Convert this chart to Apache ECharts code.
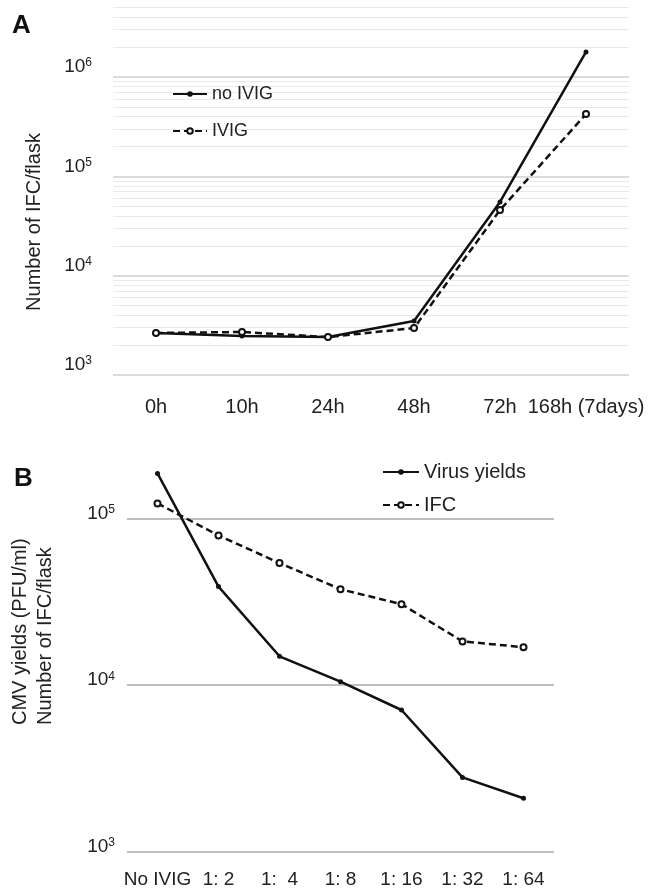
<!DOCTYPE html>
<html>
<head>
<meta charset="utf-8">
<script src="https://cdn.jsdelivr.net/npm/echarts@6/dist/echarts.min.js"></script>
<style>
html, body { margin: 0; padding: 0; background: #fff; }
#charts { width: 656px; height: 892px; }
</style>
</head>
<body>
<div id="charts"></div>
<script>
// panel A : IFC per flask over time
var hours = ['0h', '10h', '24h', '48h', '72h', '168h (7days)'];
var noIvig = [2650, 2470, 2410, 3500, 55200, 1790000];
var ivig = [2650, 2710, 2410, 2970, 45800, 424000];

// panel B : IVIG dilutions
var dilutions = ['No IVIG', '1: 2', '1:  4', '1: 8', '1: 16', '1: 32', '1: 64'];
var virusYields = [186000, 39000, 14900, 10500, 7100, 2800, 2100];
var ifc = [123000, 79000, 54000, 37600, 30600, 18300, 16900];

// gridline levels
var majorA = [1e3, 1e4, 1e5, 1e6];
var majorB = [1e3, 1e4, 1e5];

var FONT = '"Liberation Sans", Arial, sans-serif';

function minorLevels(from, to, top) {
    var list = [];
    for (var k = from; k <= to; k++) {
        for (var m = 2; m <= 9; m++) {
            var v = m * Math.pow(10, k);
            if (v <= top) list.push(v);
        }
    }
    return list;
}

// only the powers of ten get a label, written as 10 with a superscript
function powLabel(v) {
    var e = Math.log10(v);
    if (Math.abs(e - Math.round(e)) > 1e-6) return '';
    return '{b|10}{s|' + Math.round(e) + '}';
}

var labelRich = {
    b: { fontSize: 19, lineHeight: 20, color: '#222', fontFamily: FONT },
    s: { fontSize: 12, lineHeight: 12, verticalAlign: 'top', color: '#222', fontFamily: FONT }
};

function gridLines(levels, color, width) {
    var list = [];
    for (var i = 0; i < levels.length; i++) {
        list.push({ yAxis: levels[i], lineStyle: { color: color, width: width, type: 'solid' } });
    }
    return list;
}

var linesA = gridLines(minorLevels(3, 6, 5e6), '#e9e9e9', 1).concat(gridLines(majorA, '#cfcfcf', 1.5));
var linesB = gridLines(majorB, '#a8a8a8', 1.5);

var myChart = echarts.init(document.getElementById('charts'));

var option = {
    animation: false,
    backgroundColor: '#fff',
    textStyle: { fontFamily: FONT },
    grid: [
        { left: 113, right: 27, top: 3.5, bottom: 517 },
        { left: 127, right: 102, top: 452, bottom: 40 }
    ],
    legend: [
        {
            orient: 'vertical', left: 167, top: 80, itemWidth: 34, itemHeight: 7, itemGap: 19,
            textStyle: { fontSize: 18, color: '#222', fontFamily: FONT },
            data: ['no IVIG', 'IVIG']
        },
        {
            orient: 'vertical', left: 377, top: 457, itemWidth: 36, itemHeight: 7, itemGap: 13,
            textStyle: { fontSize: 20, color: '#222', fontFamily: FONT },
            data: ['Virus yields', 'IFC']
        }
    ],
    xAxis: [
        {
            type: 'category', gridIndex: 0, data: hours, boundaryGap: true,
            axisLine: { show: false }, axisTick: { show: false },
            axisLabel: { interval: 0, fontSize: 20, color: '#222', margin: 22, fontFamily: FONT }
        },
        {
            type: 'category', gridIndex: 1, data: dilutions, boundaryGap: true,
            axisLine: { show: false }, axisTick: { show: false },
            axisLabel: { interval: 0, fontSize: 19, color: '#222', margin: 18, fontFamily: FONT }
        }
    ],
    yAxis: [
        {
            type: 'log', logBase: 10, gridIndex: 0, min: 1000, max: 5500000,
            axisLine: { show: false }, axisTick: { show: false }, splitLine: { show: false },
            axisLabel: { formatter: powLabel, rich: labelRich, margin: 21, verticalAlign: 'bottom' }
        },
        {
            type: 'log', logBase: 10, gridIndex: 1, min: 1000, max: 250000,
            axisLine: { show: false }, axisTick: { show: false }, splitLine: { show: false },
            axisLabel: { formatter: powLabel, rich: labelRich, margin: 12, padding: [0, 0, 10, 0] }
        }
    ],
    graphic: [
        { type: 'text', left: 12, top: 13, style: { text: 'A', font: 'bold 26px ' + FONT, fill: '#111' } },
        { type: 'text', left: 14, top: 466, style: { text: 'B', font: 'bold 26px ' + FONT, fill: '#111' } },
        {
            type: 'text', x: 34, y: 222, rotation: Math.PI / 2,
            style: { text: 'Number of IFC/flask', font: '20px ' + FONT, fill: '#222',
                     textAlign: 'center', textVerticalAlign: 'middle', align: 'center', verticalAlign: 'middle' }
        },
        {
            type: 'text', x: 33, y: 725, rotation: Math.PI / 2,
            style: { text: 'CMV yields (PFU/ml)\nNumber of IFC/flask', font: '20px ' + FONT, fill: '#222', lineHeight: 25,
                     textAlign: 'left', textVerticalAlign: 'middle', align: 'left', verticalAlign: 'middle' }
        }
    ],
    series: [
        // gridlines drawn as mark lines so minor log lines can be shown
        {
            name: 'gridA', type: 'line', xAxisIndex: 0, yAxisIndex: 0, data: [], z: 1, silent: true,
            markLine: { z: 1, silent: true, symbol: ['none', 'none'], label: { show: false }, animation: false, data: linesA }
        },
        {
            name: 'gridB', type: 'line', xAxisIndex: 1, yAxisIndex: 1, data: [], z: 1, silent: true,
            markLine: { z: 1, silent: true, symbol: ['none', 'none'], label: { show: false }, animation: false, data: linesB }
        },
        {
            name: 'no IVIG', type: 'line', xAxisIndex: 0, yAxisIndex: 0, data: noIvig, z: 3,
            symbol: 'circle', symbolSize: 5,
            lineStyle: { color: '#111', width: 2.5 }, itemStyle: { color: '#111' }
        },
        {
            name: 'IVIG', type: 'line', xAxisIndex: 0, yAxisIndex: 0, data: ivig, z: 4,
            symbol: 'emptyCircle', symbolSize: 6,
            lineStyle: { color: '#111', width: 2.5, type: [7, 4] }, itemStyle: { color: '#111', borderWidth: 1 }
        },
        {
            name: 'Virus yields', type: 'line', xAxisIndex: 1, yAxisIndex: 1, data: virusYields, z: 3,
            symbol: 'circle', symbolSize: 5,
            lineStyle: { color: '#111', width: 2.5 }, itemStyle: { color: '#111' }
        },
        {
            name: 'IFC', type: 'line', xAxisIndex: 1, yAxisIndex: 1, data: ifc, z: 4,
            symbol: 'emptyCircle', symbolSize: 6,
            lineStyle: { color: '#111', width: 2.5, type: [7, 4] }, itemStyle: { color: '#111', borderWidth: 1 }
        }
    ]
};

myChart.setOption(option);
</script>
</body>
</html>
